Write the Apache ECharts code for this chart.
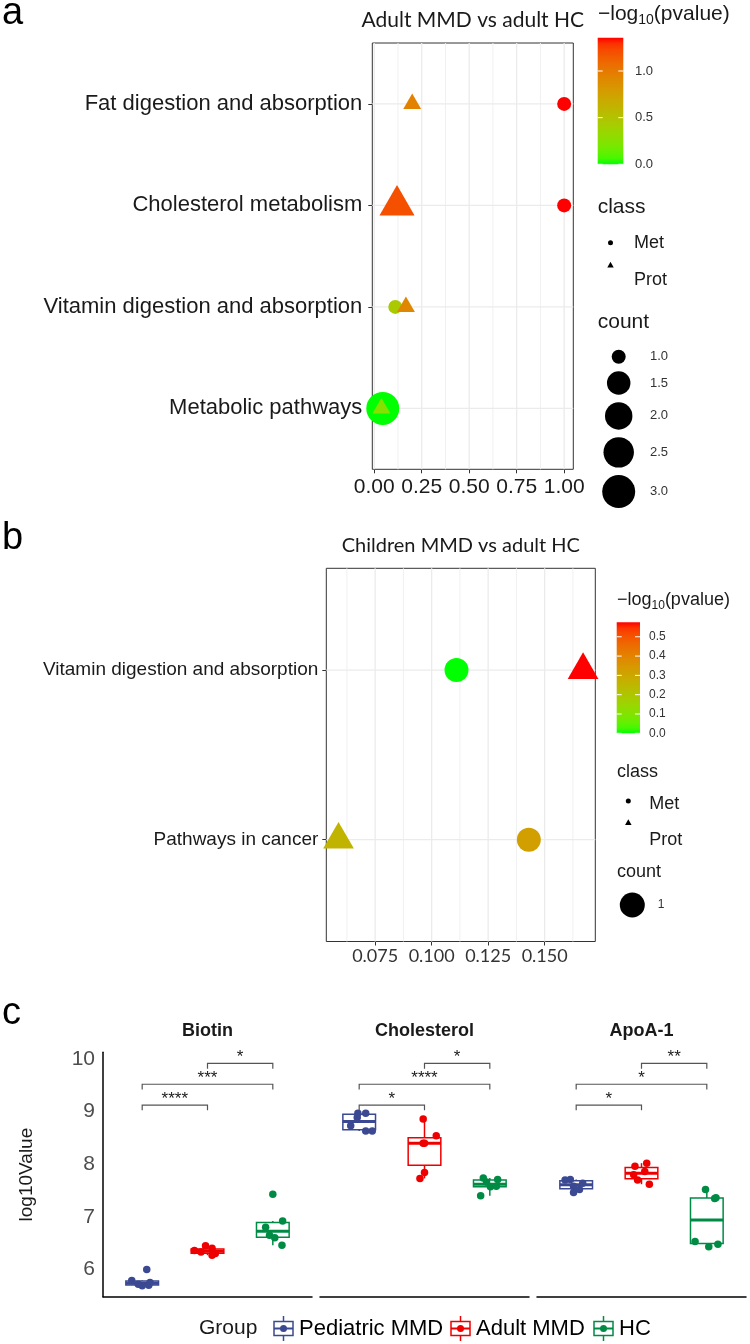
<!DOCTYPE html>
<html>
<head>
<meta charset="utf-8">
<title>Pathway enrichment and metabolite levels</title>
<script src="https://cdn.jsdelivr.net/npm/echarts@6.0.0/dist/echarts.min.js"></script>
<style>
  html, body { margin: 0; padding: 0; background: #fff; }
  #chart { width: 750px; height: 1344px; }
</style>
</head>
<body>
<div id="chart"></div>
<script>
const SANS = "'Liberation Sans', Arial, sans-serif";
const HUM = "Lato, 'Open Sans', sans-serif";

// ---- panel a : Adult MMD vs adult HC ----
const aPathways = ['Fat digestion and absorption', 'Cholesterol metabolism', 'Vitamin digestion and absorption', 'Metabolic pathways'];
const aMetRatio = [1.0, 1.0, 0.111, 0.045];
const aMetLogP = [1.357, 1.357, 0.45, 0.0];
const aMetCount = [1, 1, 1, 3];
const aProtRatio = [0.2, 0.12, 0.167, 0.038];
const aProtLogP = [0.95, 1.2, 0.92, 0.25];
const aProtCount = [1, 2, 1, 1];
const aXTicks = [0, 0.25, 0.5, 0.75, 1.0];
const aXMinor = [0.125, 0.375, 0.625, 0.875];
const aColorBreaks = [0, 0.5, 1.0];
const aSizeBreaks = [1.0, 1.5, 2.0, 2.5, 3.0];

// ---- panel b : Children MMD vs adult HC ----
const bPathways = ['Vitamin digestion and absorption', 'Pathways in cancer'];
const bMetRatio = [0.111, 0.143];
const bMetLogP = [0.0, 0.32];
const bMetCount = [1, 1];
const bProtRatio = [0.167, 0.0588];
const bProtLogP = [0.575, 0.26];
const bProtCount = [1, 1];
const bXTicks = [0.075, 0.1, 0.125, 0.15];
const bXMinor = [0.0625, 0.0875, 0.1125, 0.1375, 0.1625];
const bColorBreaks = [0, 0.1, 0.2, 0.3, 0.4, 0.5];
const bSizeBreaks = [1];

// ---- panel c : boxplots ----
const cFacets = ['Biotin', 'Cholesterol', 'ApoA-1'];
const cGroups = ['Pediatric MMD', 'Adult MMD', 'HC'];
const cColors = ['#3B4992', '#EE0000', '#008B45'];
const biotinPed = [5.69, 5.70, 5.72, 5.75, 5.79, 6.00];
const biotinAdult = [6.27, 6.30, 6.33, 6.36, 6.40, 6.45];
const biotinHC = [6.46, 6.60, 6.65, 6.80, 6.92, 7.43];
const cholPed = [8.63, 8.63, 8.73, 8.89, 8.97, 8.97];
const cholAdult = [7.73, 7.84, 8.40, 8.40, 8.54, 8.86];
const cholHC = [7.40, 7.57, 7.58, 7.66, 7.71, 7.74];
const apoPed = [7.46, 7.52, 7.58, 7.64, 7.70, 7.71];
const apoAdult = [7.62, 7.70, 7.80, 7.86, 7.96, 8.02];
const apoHC = [6.43, 6.48, 6.53, 7.35, 7.36, 7.52];
// horizontal jitter of the dots, in group units
const biotinJitter = [[0, 0.10, -0.06, 0.12, -0.16, 0.07], [0.07, 0.12, -0.10, -0.20, 0.07, -0.03], [0.14, 0.03, -0.05, -0.11, 0.15, 0]];
const cholJitter = [[0.10, 0.20, -0.13, -0.03, -0.02, 0.10], [-0.07, 0, -0.02, 0, 0.18, -0.02], [-0.14, 0.01, 0.10, -0.05, 0.12, -0.10]];
const apoJitter = [[-0.04, 0.05, -0.04, 0.10, -0.17, -0.09], [0.12, -0.06, -0.12, 0.05, -0.10, 0.08], [0.03, 0.17, -0.18, 0.12, 0.14, -0.02]];
const cSigLevels = [9.125, 9.52, 9.915];
const cSigPairs = [[1, 2], [1, 3], [2, 3]];
const biotinSig = ['****', '***', '*'];
const cholSig = ['*', '****', '*'];
const apoSig = ['*', '*', '**'];
const cYTicks = [6, 7, 8, 9, 10];

const cValues = [[biotinPed, biotinAdult, biotinHC], [cholPed, cholAdult, cholHC], [apoPed, apoAdult, apoHC]];
const cJitter = [biotinJitter, cholJitter, apoJitter];
const cSig = [biotinSig, cholSig, apoSig];

// green -> red gradient interpolated in CIELAB (like ggplot)
function toLin(c) { c /= 255; return c <= 0.04045 ? c / 12.92 : Math.pow((c + 0.055) / 1.055, 2.4); }
function fromLin(c) {
  c = c <= 0.0031308 ? 12.92 * c : 1.055 * Math.pow(c, 1 / 2.4) - 0.055;
  return Math.round(Math.min(1, Math.max(0, c)) * 255);
}
const WN = [0.95047, 1, 1.08883];
function rgb2lab(rgb) {
  const [r, g, b] = rgb.map(toLin);
  const xyz = [(0.4124 * r + 0.3576 * g + 0.1805 * b) / WN[0], 0.2126 * r + 0.7152 * g + 0.0722 * b, (0.0193 * r + 0.1192 * g + 0.9505 * b) / WN[2]];
  const f = xyz.map(t => t > 0.008856 ? Math.cbrt(t) : 7.787 * t + 16 / 116);
  return [116 * f[1] - 16, 500 * (f[0] - f[1]), 200 * (f[1] - f[2])];
}
function lab2rgb(lab) {
  const fy = (lab[0] + 16) / 116, fx = fy + lab[1] / 500, fz = fy - lab[2] / 200;
  const inv = t => t > 0.206893 ? t * t * t : (t - 16 / 116) / 7.787;
  const X = inv(fx) * WN[0], Y = inv(fy), Z = inv(fz) * WN[2];
  const r = 3.2406 * X - 1.5372 * Y - 0.4986 * Z;
  const g = -0.9689 * X + 1.8758 * Y + 0.0415 * Z;
  const b = 0.0557 * X - 0.2040 * Y + 1.0570 * Z;
  return 'rgb(' + [r, g, b].map(fromLin).join(',') + ')';
}
const LAB_LOW = rgb2lab([0, 255, 0]), LAB_HIGH = rgb2lab([255, 0, 0]);
function gradColor(t) {
  t = Math.min(1, Math.max(0, t));
  return lab2rgb(LAB_LOW.map((v, i) => v + (LAB_HIGH[i] - v) * t));
}

function expand(vals, mult) {
  const lo = Math.min(...vals), hi = Math.max(...vals), r = hi - lo;
  return [lo - mult * r, hi + mult * r];
}

const aXRange = expand(aMetRatio.concat(aProtRatio), 0.05);
const bXRange = expand(bMetRatio.concat(bProtRatio), 0.05);
const aYRange = [0.4, aPathways.length + 0.6];
const bYRange = [0.4, bPathways.length + 0.6];
const aLogP = aMetLogP.concat(aProtLogP), bLogP = bMetLogP.concat(bProtLogP);
const aLim = [Math.min(...aLogP), Math.max(...aLogP)];
const bLim = [Math.min(...bLogP), Math.max(...bLogP)];
const aCount = aMetCount.concat(aProtCount);
const aCountLim = [Math.min(...aCount), Math.max(...aCount)];

// point diameter from count (area scale)
function aSize(n) { return 14 + 19 * Math.sqrt((n - aCountLim[0]) / (aCountLim[1] - aCountLim[0])); }
function bSize(n) { return 24; }

function circleItems(ratio, logP, count, lim, sizeFn) {
  return ratio.map((x, i) => ({
    value: [x, i + 1],
    symbolSize: sizeFn(count[i]),
    itemStyle: { color: gradColor((logP[i] - lim[0]) / (lim[1] - lim[0])) }
  }));
}
function triangleItems(ratio, logP, count, lim, sizeFn) {
  return ratio.map((x, i) => {
    const d = sizeFn(count[i]) * 0.95, w = d * 1.347, h = d * 1.167;
    return {
      value: [x, i + 1],
      symbolSize: [w, h],
      symbolOffset: [0, -h / 6],
      itemStyle: { color: gradColor((logP[i] - lim[0]) / (lim[1] - lim[0])) }
    };
  });
}

function gridLines(ax, vMajor, vMinor, hMajor, xr, yr) {
  const data = [];
  vMajor.forEach(v => data.push([0, v, 0]));
  vMinor.forEach(v => data.push([0, v, 1]));
  hMajor.forEach(v => data.push([1, v, 0]));
  return {
    type: 'custom', xAxisIndex: ax, yAxisIndex: ax, z: 1, silent: true, data: data,
    renderItem: function (params, api) {
      const o = api.value(0), v = api.value(1), minor = api.value(2);
      const p1 = o === 0 ? api.coord([v, yr[0]]) : api.coord([xr[0], v]);
      const p2 = o === 0 ? api.coord([v, yr[1]]) : api.coord([xr[1], v]);
      return {
        type: 'line',
        shape: { x1: p1[0], y1: p1[1], x2: p2[0], y2: p2[1] },
        style: { stroke: minor ? '#F0F0F0' : '#EBEBEB', lineWidth: minor ? 1 : 1.3 }
      };
    }
  };
}

function quantile(s, p) {
  const h = (s.length - 1) * p, lo = Math.floor(h);
  const next = lo + 1 < s.length ? s[lo + 1] : s[lo];
  return s[lo] + (h - lo) * (next - s[lo]);
}
function boxStats(vals) {
  const s = vals.slice().sort((a, b) => a - b);
  const q1 = quantile(s, 0.25), med = quantile(s, 0.5), q3 = quantile(s, 0.75), iqr = q3 - q1;
  const lo = Math.min(...s.filter(v => v >= q1 - 1.5 * iqr));
  const hi = Math.max(...s.filter(v => v <= q3 + 1.5 * iqr));
  return [lo, q1, med, q3, hi];
}

const cAll = [].concat(...cValues.map(f => [].concat(...f)));
const cYRange = expand([Math.min(...cAll), Math.max(...cSigLevels)], 0.05);
const cPxPerUnit = 52.6;
const cTop = 1059 - (cYRange[1] - 10) * cPxPerUnit;
const cHeight = (cYRange[1] - cYRange[0]) * cPxPerUnit;
const cLefts = [103, 320, 537];
const cWidth = 209;

const grids = [
  { left: 372.3, top: 43, width: 201, height: 426.3, show: true, borderColor: '#333', borderWidth: 1, backgroundColor: '#fff' },
  { left: 326.3, top: 568.3, width: 269, height: 373.2, show: true, borderColor: '#333', borderWidth: 1, backgroundColor: '#fff' }
];
cLefts.forEach(l => grids.push({ left: l, top: cTop, width: cWidth, height: cHeight }));

const xAxes = [
  {
    gridIndex: 0, type: 'value', min: aXRange[0], max: aXRange[1],
    axisLine: { show: false, onZero: false },
    axisTick: { length: 4, lineStyle: { color: '#333' }, customValues: aXTicks },
    axisLabel: { customValues: aXTicks, formatter: v => v.toFixed(2), fontSize: 21, fontFamily: SANS, color: '#1a1a1a', margin: 7 },
    splitLine: { show: false }
  },
  {
    gridIndex: 1, type: 'value', min: bXRange[0], max: bXRange[1],
    axisLine: { show: false, onZero: false },
    axisTick: { length: 4, lineStyle: { color: '#333' }, customValues: bXTicks },
    axisLabel: { customValues: bXTicks, formatter: v => v.toFixed(3), fontSize: 18, fontFamily: HUM, color: '#333', margin: 6 },
    splitLine: { show: false }
  }
];
const yAxes = [
  {
    gridIndex: 0, type: 'value', inverse: true, min: aYRange[0], max: aYRange[1],
    axisLine: { show: false, onZero: false },
    axisTick: { length: 4, lineStyle: { color: '#333' }, customValues: aPathways.map((_, i) => i + 1) },
    axisLabel: { customValues: aPathways.map((_, i) => i + 1), formatter: v => aPathways[Math.round(v) - 1], fontSize: 22, fontFamily: SANS, color: '#1a1a1a', margin: 10 },
    splitLine: { show: false }
  },
  {
    gridIndex: 1, type: 'value', inverse: true, min: bYRange[0], max: bYRange[1],
    axisLine: { show: false, onZero: false },
    axisTick: { length: 4, lineStyle: { color: '#333' }, customValues: bPathways.map((_, i) => i + 1) },
    axisLabel: { customValues: bPathways.map((_, i) => i + 1), formatter: v => bPathways[Math.round(v) - 1], fontSize: 19, fontFamily: SANS, color: '#1a1a1a', margin: 8 },
    splitLine: { show: false }
  }
];
cFacets.forEach((f, k) => {
  xAxes.push({
    gridIndex: 2 + k, type: 'value', min: 0.4, max: 3.6,
    axisLine: { show: true, onZero: false, lineStyle: { color: '#000', width: 1.5 } },
    axisTick: { show: false }, axisLabel: { show: false }, splitLine: { show: false }
  });
  yAxes.push({
    gridIndex: 2 + k, type: 'value', min: cYRange[0], max: cYRange[1], show: k === 0,
    axisLine: { show: true, onZero: false, lineStyle: { color: '#000', width: 1.5 } },
    axisTick: { show: false },
    axisLabel: { customValues: cYTicks, formatter: v => String(Math.round(v)), fontSize: 21, fontFamily: SANS, color: '#4D4D4D', margin: 8 },
    splitLine: { show: false }
  });
});

const series = [
  gridLines(0, aXTicks, aXMinor, aPathways.map((_, i) => i + 1), aXRange, aYRange),
  {
    type: 'scatter', xAxisIndex: 0, yAxisIndex: 0, z: 3, clip: false, silent: true,
    itemStyle: { opacity: 1 },
    data: circleItems(aMetRatio, aMetLogP, aMetCount, aLim, aSize)
  },
  {
    type: 'scatter', xAxisIndex: 0, yAxisIndex: 0, z: 4, clip: false, silent: true, symbol: 'triangle',
    itemStyle: { opacity: 1 },
    data: triangleItems(aProtRatio, aProtLogP, aProtCount, aLim, aSize)
  },
  gridLines(1, bXTicks, bXMinor, bPathways.map((_, i) => i + 1), bXRange, bYRange),
  {
    type: 'scatter', xAxisIndex: 1, yAxisIndex: 1, z: 3, clip: true, silent: true,
    itemStyle: { opacity: 1 },
    data: circleItems(bMetRatio, bMetLogP, bMetCount, bLim, bSize)
  },
  {
    type: 'scatter', xAxisIndex: 1, yAxisIndex: 1, z: 4, clip: true, silent: true, symbol: 'triangle',
    itemStyle: { opacity: 1 },
    data: triangleItems(bProtRatio, bProtLogP, bProtCount, bLim, bSize)
  }
];

cFacets.forEach((f, k) => {
  const ax = 2 + k;
  // boxes
  series.push({
    type: 'custom', xAxisIndex: ax, yAxisIndex: ax, z: 2, silent: true,
    data: cGroups.map((g, gi) => [gi + 1].concat(boxStats(cValues[k][gi]), [gi])),
    renderItem: function (params, api) {
      const x = api.value(0), col = cColors[api.value(6)], hw = 0.25;
      const lo = api.value(1), q1 = api.value(2), med = api.value(3), q3 = api.value(4), hi = api.value(5);
      const tl = api.coord([x - hw, q3]), br = api.coord([x + hw, q1]);
      const mL = api.coord([x - hw, med]), mR = api.coord([x + hw, med]);
      const pHi = api.coord([x, hi]), pQ3 = api.coord([x, q3]), pQ1 = api.coord([x, q1]), pLo = api.coord([x, lo]);
      return {
        type: 'group',
        children: [
          { type: 'line', shape: { x1: pHi[0], y1: pHi[1], x2: pQ3[0], y2: pQ3[1] }, style: { stroke: col, lineWidth: 1.5 } },
          { type: 'line', shape: { x1: pQ1[0], y1: pQ1[1], x2: pLo[0], y2: pLo[1] }, style: { stroke: col, lineWidth: 1.5 } },
          { type: 'rect', shape: { x: tl[0], y: tl[1], width: br[0] - tl[0], height: br[1] - tl[1] }, style: { fill: '#fff', stroke: col, lineWidth: 1.5 } },
          { type: 'line', shape: { x1: mL[0], y1: mL[1], x2: mR[0], y2: mR[1] }, style: { stroke: col, lineWidth: 3 } }
        ]
      };
    }
  });
  // jittered dots
  const dots = [];
  cGroups.forEach((g, gi) => {
    cValues[k][gi].forEach((v, j) => {
      dots.push({ value: [gi + 1 + cJitter[k][gi][j], v], itemStyle: { color: cColors[gi] } });
    });
  });
  series.push({
    type: 'scatter', xAxisIndex: ax, yAxisIndex: ax, z: 3, silent: true, symbolSize: 7.5,
    itemStyle: { opacity: 1 }, data: dots
  });
  // significance brackets
  series.push({
    type: 'custom', xAxisIndex: ax, yAxisIndex: ax, z: 3, silent: true,
    data: cSigPairs.map((p, i) => [p[0], p[1], cSigLevels[i]]),
    renderItem: function (params, api) {
      const x1 = api.value(0), x2 = api.value(1), y = api.value(2);
      const a = api.coord([x1, y]), b = api.coord([x2, y]);
      const a2 = api.coord([x1, y - 0.1]), b2 = api.coord([x2, y - 0.1]);
      return {
        type: 'group',
        children: [
          { type: 'polyline', shape: { points: [[a[0], a2[1]], a, b, [b[0], b2[1]]] }, style: { stroke: '#555', lineWidth: 1.2, fill: null } },
          { type: 'text', x: (a[0] + b[0]) / 2, y: a[1] - 6, style: { text: cSig[k][params.dataIndex], fontSize: 17, fontFamily: SANS, fill: '#1a1a1a', align: 'center', verticalAlign: 'middle' } }
        ]
      };
    }
  });
});

// ---- text, legends ----
const mctx = document.createElement('canvas').getContext('2d');
function tw(s, size) { mctx.font = size + 'px ' + SANS; return mctx.measureText(s).width; }
function txt(x, y, s, size, extra) {
  return {
    type: 'text', x: x, y: y, silent: true, z: 10,
    style: Object.assign({ text: s, fontSize: size, fontFamily: SANS, fill: '#1a1a1a', align: 'left', verticalAlign: 'middle' }, extra || {})
  };
}
const graphic = [];

// panel letters and titles
graphic.push(txt(2, 14, 'a', 38, { fill: '#000' }));
graphic.push(txt(2, 539, 'b', 38, { fill: '#000' }));
graphic.push(txt(2, 1014, 'c', 38, { fill: '#000' }));
graphic.push(txt(472.8, 20.5, 'Adult MMD vs adult HC', 21, { fontFamily: HUM, align: 'center' }));
graphic.push(txt(460.8, 546, 'Children MMD vs adult HC', 20, { fontFamily: HUM, align: 'center' }));

function pvalueTitle(x, y, size, subSize, subDy) {
  const w1 = tw('\u2212log', size), w2 = tw('10', subSize);
  graphic.push(txt(x, y, '\u2212log', size));
  graphic.push(txt(x + w1, y + subDy, '10', subSize));
  graphic.push(txt(x + w1 + w2, y, '(pvalue)', size));
}
function colorBar(x, top, w, h, lim, breaks, labelX, labelSize) {
  const stops = [];
  for (let k = 0; k <= 20; k++) stops.push({ offset: k / 20, color: gradColor(k / 20) });
  graphic.push({
    type: 'rect', silent: true, z: 10, shape: { x: x, y: top, width: w, height: h },
    style: { fill: new echarts.graphic.LinearGradient(0, 1, 0, 0, stops) }
  });
  breaks.forEach(v => {
    const y = top + h - (v - lim[0]) / (lim[1] - lim[0]) * h;
    graphic.push({ type: 'line', silent: true, z: 11, shape: { x1: x, y1: y, x2: x + 5, y2: y }, style: { stroke: '#fff', lineWidth: 1 } });
    graphic.push({ type: 'line', silent: true, z: 11, shape: { x1: x + w - 5, y1: y, x2: x + w, y2: y }, style: { stroke: '#fff', lineWidth: 1 } });
    graphic.push(txt(labelX, y, v.toFixed(1), labelSize, { fill: '#333' }));
  });
}
function triangleGlyph(cx, cy, w) {
  const h = w * 0.866;
  return { type: 'polygon', silent: true, z: 10, shape: { points: [[cx, cy - 2 * h / 3], [cx + w / 2, cy + h / 3], [cx - w / 2, cy + h / 3]] }, style: { fill: '#000' } };
}
function dotGlyph(cx, cy, d) {
  return { type: 'circle', silent: true, z: 10, shape: { cx: cx, cy: cy, r: d / 2 }, style: { fill: '#000' } };
}

// legend a
pvalueTitle(598, 14.4, 21, 14, 5.8);
colorBar(597.7, 37.7, 25.6, 126.6, aLim, aColorBreaks, 635, 13);
graphic.push(txt(597.7, 207.7, 'class', 21));
graphic.push(dotGlyph(610.5, 242.7, 5));
graphic.push(txt(634, 243, 'Met', 18));
graphic.push(triangleGlyph(610.5, 265.5, 6.5));
graphic.push(txt(634, 279.8, 'Prot', 18));
graphic.push(txt(597.7, 322.7, 'count', 21));
let yKey = 356.7, prevH = null;
aSizeBreaks.forEach(v => {
  const d = aSize(v), kh = d + 7.5;
  if (prevH !== null) yKey += (prevH + kh) / 2;
  prevH = kh;
  graphic.push(dotGlyph(618.7, yKey, d));
  graphic.push(txt(650, yKey, v.toFixed(1), 13, { fill: '#333' }));
});

// legend b
pvalueTitle(617, 600.5, 18, 12, 5);
colorBar(616.7, 622.3, 23.3, 111, bLim, bColorBreaks, 649, 12);
graphic.push(txt(617, 772, 'class', 18));
graphic.push(dotGlyph(628.3, 801, 5));
graphic.push(txt(649.3, 803.8, 'Met', 18));
graphic.push(triangleGlyph(628.3, 823, 6.5));
graphic.push(txt(649.3, 839.8, 'Prot', 18));
graphic.push(txt(617, 872, 'count', 18));
bSizeBreaks.forEach(v => {
  graphic.push(dotGlyph(632.3, 905, bSize(v) + 1));
  graphic.push(txt(657.7, 905, String(v), 12, { fill: '#333' }));
});

// panel c: facet titles, y name, group legend
cFacets.forEach((f, k) => {
  graphic.push(txt(cLefts[k] + cWidth / 2, 1031.5, f, 18, { fontWeight: 'bold', align: 'center' }));
});
graphic.push(Object.assign(txt(27, cTop + cHeight / 2, 'log10Value', 19, { align: 'center' }), { rotation: Math.PI / 2 }));
graphic.push(txt(199, 1328.5, 'Group', 21));
const keyX = [283.5, 460.5, 603.5];
cGroups.forEach((g, gi) => {
  const cx = keyX[gi], cy = 1328.5, col = cColors[gi];
  graphic.push({ type: 'line', silent: true, z: 10, shape: { x1: cx, y1: cy - 12.5, x2: cx, y2: cy + 12.5 }, style: { stroke: col, lineWidth: 1.5 } });
  graphic.push({ type: 'rect', silent: true, z: 10, shape: { x: cx - 9.5, y: cy - 7, width: 19, height: 14 }, style: { fill: '#fff', stroke: col, lineWidth: 1.5 } });
  graphic.push({ type: 'line', silent: true, z: 11, shape: { x1: cx - 9.5, y1: cy, x2: cx + 9.5, y2: cy }, style: { stroke: col, lineWidth: 2 } });
  graphic.push({ type: 'circle', silent: true, z: 12, shape: { cx: cx, cy: cy, r: 3.5 }, style: { fill: col } });
  graphic.push(txt(cx + 15.5, cy, g, 22, { fill: '#000' }));
});

const chart = echarts.init(document.getElementById('chart'), null, { renderer: 'canvas' });
chart.setOption({
  animation: false,
  backgroundColor: '#fff',
  grid: grids,
  xAxis: xAxes,
  yAxis: yAxes,
  series: series,
  graphic: graphic
});
</script>
</body>
</html>
